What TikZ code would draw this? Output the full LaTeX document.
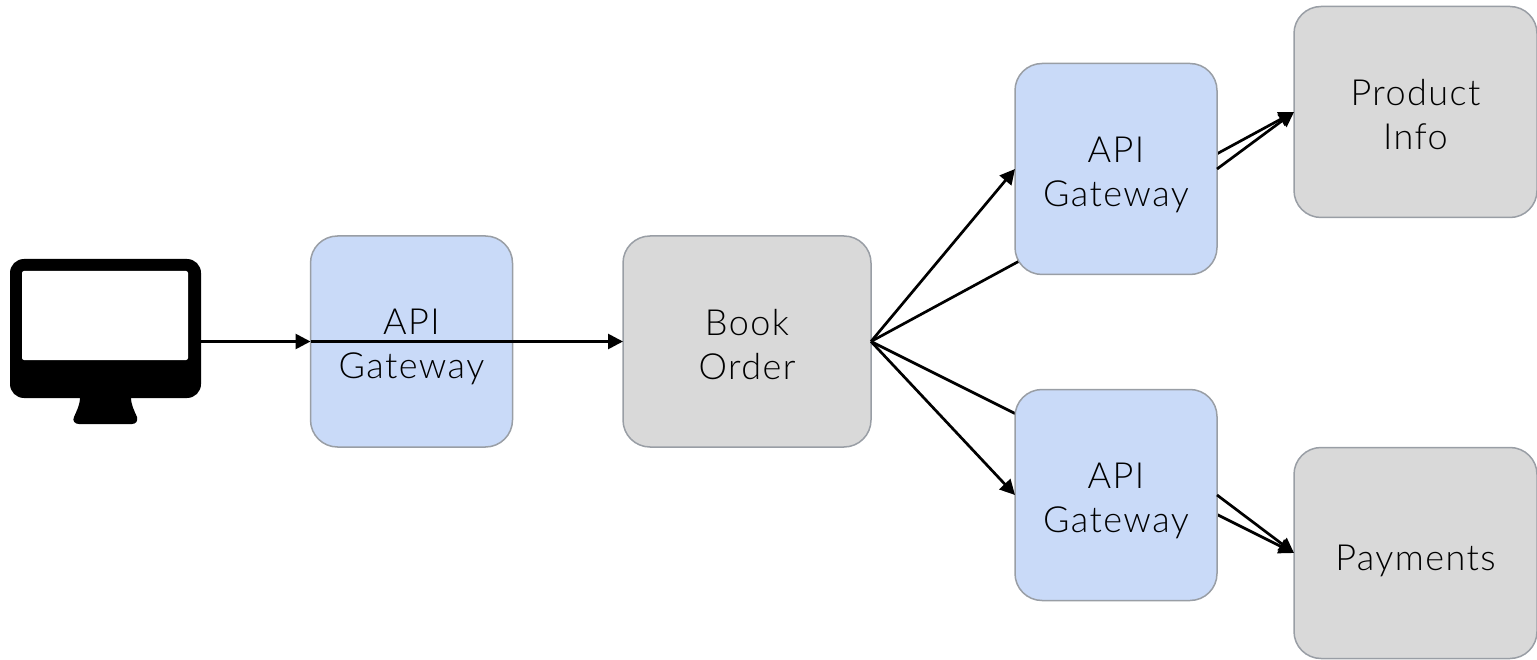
\documentclass[tikz,border=0pt]{standalone}
\usepackage{fontspec}
\setmainfont[LetterSpace=4]{Lato Light}
\usetikzlibrary{arrows.meta,backgrounds}
\definecolor{gatewayblue}{HTML}{C9DAF8}
\definecolor{servicegray}{HTML}{D9D9D9}
\definecolor{edgegray}{HTML}{999EA5}
\tikzset{
  box/.style={draw=edgegray,line width=1.5pt,rounded corners=27pt,minimum width=#1,minimum height=211pt,text width=#1,
    inner sep=0pt,outer sep=0pt,align=center,font=\fontsize{36}{44}\selectfont},
  lower/.style={execute at begin node={\rule{0pt}{#1}}},
  gateway/.style={box=202pt,fill=gatewayblue,lower=37pt},
  service/.style={box=#1,fill=servicegray},
  link/.style={line width=2.7pt,-{Triangle[length=15pt,width=15pt]}}
}
\begin{document}
\begin{tikzpicture}[x=1pt,y=-1pt]
  \useasboundingbox (0,0) rectangle (1537,660);
  \node[fill=black,rounded corners=14pt,minimum width=191pt,minimum height=139pt,inner sep=0pt,outer sep=0pt] (client) at (105.5,328.5) {};
  \node[fill=white,rounded corners=2pt,minimum width=166pt,minimum height=89pt,inner sep=0pt] (screen) at (105,315.5) {};
  \fill (80,397) -- (131,397) .. controls (131,405) and (134,410) .. (137,417)
    .. controls (138,421) and (136,424) .. (132,424) -- (79,424)
    .. controls (75,424) and (72,421) .. (74,417) .. controls (77,410) and (80,405) .. (80,397) -- cycle;
  \node[gateway] (apiA) at (411.5,341.5) {API\\Gateway};
  \node[service=248pt,lower=32pt] (book) at (747,341.5) {Book\\Order};
  \node[service=243pt,lower=32pt] (product) at (1415.5,112) {Product\\Info};
  \node[gateway] (apiB) at (1116,169) {API\\Gateway};
  \node[gateway] (apiC) at (1116,495) {API\\Gateway};
  \node[service=243pt,lower=42pt] (payments) at (1415.5,553) {Payments};
  \begin{scope}[on background layer]
    \draw[link] (book.east) -- (product.west);
    \draw[link] (book.east) -- (payments.west);
  \end{scope}
  \draw[link] (client.east |- apiA.west) -- (apiA.west);
  \draw[link] (apiA.west) -- (book.west);
  \draw[link] (book.east) -- (apiB.west);
  \draw[link] (book.east) -- (apiC.west);
  \draw[link] (apiB.east) -- (product.west);
  \draw[link] (apiC.east) -- (payments.west);
\end{tikzpicture}
\end{document}
